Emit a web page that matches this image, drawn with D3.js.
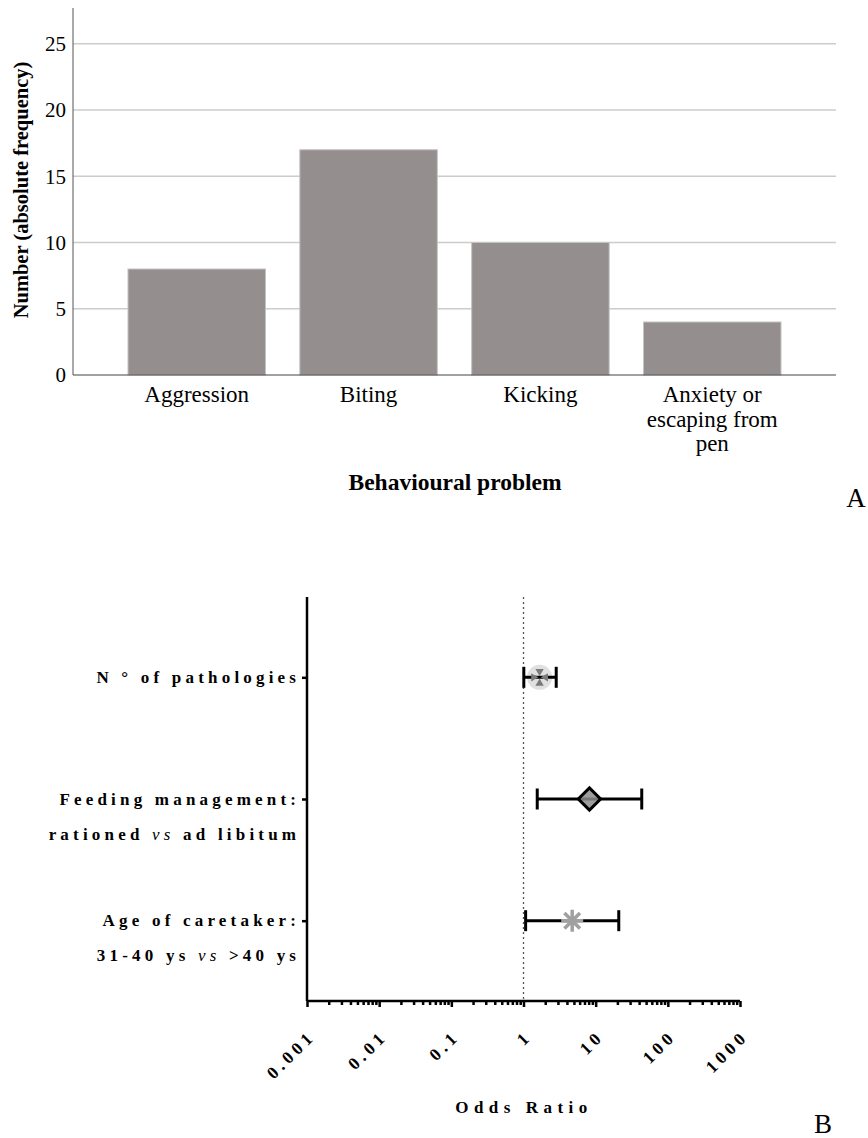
<!DOCTYPE html>
<html>
<head>
<meta charset="utf-8">
<script src="https://cdn.jsdelivr.net/npm/d3@7"></script>
<style>
body { margin: 0; background: #fff; }
</style>
</head>
<body>
<svg width="868" height="1138"></svg>
<script>
// panel A data
var categories = ["Aggression", "Biting", "Kicking", "Anxiety or escaping from pen"];
var categoryLines = [["Aggression"], ["Biting"], ["Kicking"], ["Anxiety or", "escaping from", "pen"]];
var counts = [8, 17, 10, 4];
var countTicks = [0, 5, 10, 15, 20, 25];

// panel B data
var predictors = ["pathologies", "feeding", "age"];
var predictorLines = [
    [["N ° of pathologies"]],
    [["Feeding management:"], ["rationed ", "vs", " ad libitum"]],
    [["Age of caretaker:"], ["31-40 ys ", "vs", " >40 ys"]]
];
var oddsRatio = [1.67, 8.2, 4.73];
var ciLow = [1.01, 1.55, 1.07];
var ciHigh = [2.84, 43.5, 20.9];
var orTicks = [0.001, 0.01, 0.1, 1, 10, 100, 1000];
var orTickLabels = ["0.001", "0.01", "0.1", "1", "10", "100", "1000"];

var svg = d3.select("svg")
    .style("font-family", "'Liberation Serif', 'Times New Roman', serif");

// ---------- A: bar chart
var x = d3.scaleBand().domain(categories).range([73, 836]).paddingInner(0.2).paddingOuter(0.32),
    y = d3.scaleLinear().domain([0, 27.7]).range([375, 8]);

var a = svg.append("g");

a.append("g")
    .selectAll("line")
    .data(countTicks.filter(d => d > 0))
    .enter().append("line")
    .attr("x1", 73).attr("x2", 836)
    .attr("y1", d => y(d)).attr("y2", d => y(d))
    .attr("stroke", "#cccccc").attr("stroke-width", 1.5);

a.append("g")
    .selectAll("rect")
    .data(counts)
    .enter().append("rect")
    .attr("x", (d, i) => x(categories[i]))
    .attr("y", d => y(d))
    .attr("width", x.bandwidth())
    .attr("height", d => y(0) - y(d))
    .attr("fill", "#948f8e")
    .attr("stroke", "#c4c2c2").attr("stroke-width", 1);

a.append("line")
    .attr("x1", 73).attr("x2", 73).attr("y1", 8).attr("y2", y(0))
    .attr("stroke", "#555").attr("stroke-width", 1);
a.append("line")
    .attr("x1", 73).attr("x2", 836).attr("y1", y(0)).attr("y2", y(0))
    .attr("stroke", "#444").attr("stroke-width", 1.2);

a.append("g")
    .selectAll("text")
    .data(countTicks)
    .enter().append("text")
    .attr("x", 66).attr("y", d => y(d)).attr("dy", "0.35em")
    .attr("text-anchor", "end")
    .attr("font-size", 21)
    .text(d => d);

a.append("g")
    .selectAll("text")
    .data(categoryLines)
    .enter().append("text")
    .attr("text-anchor", "middle")
    .attr("font-size", 23)
    .each(function(lines, i){
        d3.select(this).selectAll("tspan")
            .data(lines)
            .enter().append("tspan")
            .attr("x", x(categories[i]) + x.bandwidth() / 2)
            .attr("y", (l, j) => 402 + j * 24.5)
            .text(l => l);
    });

a.append("text")
    .attr("x", 455).attr("y", 490)
    .attr("text-anchor", "middle")
    .attr("font-size", 23.5).attr("font-weight", "bold")
    .text("Behavioural problem");

a.append("text")
    .attr("transform", "translate(28,190) rotate(-90)")
    .attr("text-anchor", "middle")
    .attr("font-size", 20.5).attr("font-weight", "bold")
    .text("Number (absolute frequency)");

a.append("text")
    .attr("x", 856).attr("y", 507)
    .attr("text-anchor", "middle")
    .attr("font-size", 27)
    .text("A");

// ---------- B: odds ratio plot
var ox = d3.scaleLog().domain([0.001, 1000]).range([307, 740]),
    oy = d3.scalePoint().domain(predictors).range([597, 1001]).padding(0.66);

var b = svg.append("g");
var spacing = 4.2;

// reference line at OR = 1
b.append("line")
    .attr("x1", ox(1)).attr("x2", ox(1)).attr("y1", 597).attr("y2", 1001)
    .attr("stroke", "#555").attr("stroke-width", 1.3)
    .attr("stroke-dasharray", "2,3");

// x axis: majors + minors
var minor = [];
orTicks.slice(0, -1).forEach(function(t){
    for (var k = 2; k < 10; k++) minor.push(t * k);
});

var xAxis = b.append("g")
    .attr("transform", "translate(0,1001)")
    .call(d3.axisBottom(ox).tickValues(orTicks).tickSize(6).tickFormat(""));
b.append("g")
    .attr("transform", "translate(0,1001)")
    .call(d3.axisBottom(ox).tickValues(minor).tickSize(4).tickFormat(""))
    .call(g => g.select(".domain").remove());

var yAxis = b.append("g")
    .attr("transform", "translate(307,0)")
    .call(d3.axisLeft(oy).tickSize(5).tickFormat("").tickSizeOuter(0));

b.selectAll(".domain, .tick line").attr("stroke", "#000").attr("stroke-width", 2.5);
yAxis.select(".domain").attr("d", "M0,597V1001");
xAxis.select(".domain").attr("d", "M307,0H740");

// rotated tick labels
b.append("g")
    .selectAll("text")
    .data(orTicks)
    .enter().append("text")
    .attr("transform", d => `translate(${ox(d) + 5},1033) rotate(-45)`)
    .attr("text-anchor", "end")
    .attr("dy", "0.35em")
    .attr("font-size", 17.5).attr("font-weight", "bold")
    .attr("letter-spacing", 4.2)
    .text((d, i) => orTickLabels[i]);

b.append("text")
    .attr("x", 524).attr("y", 1113)
    .attr("text-anchor", "middle")
    .attr("font-size", 17).attr("font-weight", "bold")
    .attr("letter-spacing", 5.5)
    .text("Odds Ratio");

b.append("text")
    .attr("x", 823).attr("y", 1133)
    .attr("text-anchor", "middle")
    .attr("font-size", 27)
    .text("B");

// predictor labels
predictorLines.forEach(function(lines, i){
    lines.forEach(function(parts, j){
        var t = b.append("text")
            .attr("x", 296 + spacing)
            .attr("y", oy(predictors[i]) + 5.5 + j * 35)
            .attr("text-anchor", "end")
            .attr("font-size", 17).attr("font-weight", "bold")
            .attr("letter-spacing", spacing);
        parts.forEach(function(p){
            var s = t.append("tspan").text(p);
            if (p == "vs") s.attr("font-style", "italic").attr("font-weight", "normal");
        });
    });
});

// error bars
var rows = b.selectAll("g.row")
    .data(oddsRatio)
    .enter().append("g")
    .attr("class", "row")
    .attr("transform", (d, i) => `translate(0,${oy(predictors[i])})`);

rows.filter((d, i) => i == 0).append("circle")
    .attr("cx", d => ox(d)).attr("r", 12.5)
    .attr("fill", "#e0e0e0");

rows.append("line")
    .attr("x1", (d, i) => ox(ciLow[i])).attr("x2", (d, i) => ox(ciHigh[i]))
    .attr("stroke", "#000").attr("stroke-width", 3);
rows.selectAll("line.cap")
    .data((d, i) => [ciLow[i], ciHigh[i]])
    .enter().append("line")
    .attr("class", "cap")
    .attr("x1", d => ox(d)).attr("x2", d => ox(d))
    .attr("y1", -10.5).attr("y2", 10.5)
    .attr("stroke", "#000").attr("stroke-width", 3);

// marker 1: circle with inward triangles
var tri = d3.symbol().type(d3.symbolTriangle).size(30);
rows.filter((d, i) => i == 0).each(function(d){
    var g = d3.select(this);
    [[0, -6, 180], [0, 6, 0], [-6, 0, 90], [6, 0, -90]].forEach(function(p){
        g.append("path")
            .attr("d", tri())
            .attr("transform", `translate(${ox(d) + p[0]},${p[1]}) rotate(${p[2]})`)
            .attr("fill", "#7a7a7a");
    });
});

// marker 2: diamond
rows.filter((d, i) => i == 1).append("path")
    .attr("d", d3.symbol().type(d3.symbolSquare).size(250)())
    .attr("transform", d => `translate(${ox(d)},0) rotate(45)`)
    .attr("fill", "#8c8c8c").attr("fill-opacity", 0.85)
    .attr("stroke", "#000").attr("stroke-width", 3);

// marker 3: asterisk
rows.filter((d, i) => i == 2).append("path")
    .attr("d", function(d){
        var r = 11, q = r * Math.SQRT1_2, cx = ox(d);
        return `M${cx},${-r}V${r}M${cx - r},0H${cx + r}M${cx - q},${-q}L${cx + q},${q}M${cx - q},${q}L${cx + q},${-q}`;
    })
    .attr("stroke", "#a0a0a0").attr("stroke-width", 3.5).attr("fill", "none");
</script>
</body>
</html>
